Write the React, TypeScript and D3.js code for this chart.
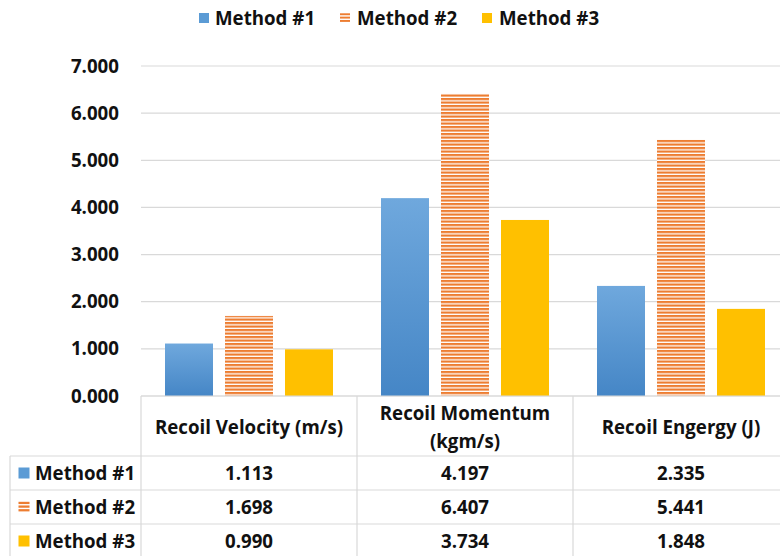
import React from "react";
import * as d3 from "d3";

const categories = ["Recoil Velocity (m/s)", "Recoil Momentum (kgm/s)", "Recoil Engergy (J)"];
const headerLines = [["Recoil Velocity (m/s)"], ["Recoil Momentum", "(kgm/s)"], ["Recoil Engergy (J)"]];
const seriesNames = ["Method #1", "Method #2", "Method #3"];
const method1 = [1.113, 4.197, 2.335];
const method2 = [1.698, 6.407, 5.441];
const method3 = [0.99, 3.734, 1.848];
const yTicks = [0, 1, 2, 3, 4, 5, 6, 7];

const W = 780;
const H = 556;
const FONT = "'Open Sans', Lato, sans-serif";
const FS = 18.7;

export default function App() {
  const series = [method1, method2, method3];
  const plotLeft = 141;
  const plotRight = 790;
  const y = d3.scaleLinear().domain([0, 7]).range([396, 66]);
  const x0 = d3.scaleBand<string>().domain(categories).range([plotLeft, plotLeft + 216 * 3]).paddingInner(0).paddingOuter(0);
  const x1 = d3.scaleBand<string>().domain(seriesNames).range([0, 216]).paddingInner(0.2).paddingOuter(0.4);
  const fills = ["url(#blueGrad)", "url(#orangeStripe)", "#ffc000"];

  const tableTop = 396;
  const headerBottom = 456;
  const rowH = 34;
  const tableLeft = 10;
  const lineColor = "#d9d9d9";

  const legendIcon = (i: number, cx: number, cy: number, s: number) => {
    if (i === 1) {
      return (
        <g>
          {[0, 1, 2].map((k) => (
            <rect key={k} x={cx - s / 2} y={cy - s / 2 + k * (s / 3) + 0.3} width={s} height={s / 3 - 1.4} fill="#ed7d31" />
          ))}
        </g>
      );
    }
    return <rect x={cx - s / 2} y={cy - s / 2} width={s} height={s} fill={i === 0 ? "#5b9bd5" : "#ffc000"} />;
  };

  const legendItems = [
    { iconX: 204, textX: 215 },
    { iconX: 345, textX: 357 },
    { iconX: 487, textX: 499 },
  ];

  return (
    <svg width={W} height={H} style={{ position: "absolute", left: 0, top: 0, background: "#fff" }} fontFamily={FONT}>
      <defs>
        <linearGradient id="blueGrad" x1="0" y1="0" x2="0" y2="1">
          <stop offset="0%" stopColor="#6fa8dd" />
          <stop offset="100%" stopColor="#4586c6" />
        </linearGradient>
        <pattern id="orangeStripe" patternUnits="userSpaceOnUse" width={8} height={3.5}>
          <rect width={8} height={3.5} fill="#fff" />
          <rect y={0} width={8} height={2.2} fill="#ed7d31" />
        </pattern>
      </defs>

      {/* legend */}
      {seriesNames.map((name, i) => (
        <g key={name}>
          {legendIcon(i, legendItems[i].iconX, 18, 10)}
          <text x={legendItems[i].textX} y={18} dy="0.35em" fontSize={FS} fontWeight={700} fill="#111">
            {name}
          </text>
        </g>
      ))}

      {/* gridlines */}
      {yTicks.map((t) => (
        <line key={t} x1={plotLeft} x2={plotRight} y1={y(t)} y2={y(t)} stroke={lineColor} strokeWidth={1.2} />
      ))}

      {/* y tick labels */}
      {yTicks.map((t) => (
        <text key={t} x={119} y={y(t)} dy="0.35em" textAnchor="end" fontSize={FS} fontWeight={700} fill="#111">
          {d3.format(".3f")(t)}
        </text>
      ))}

      {/* bars */}
      {categories.map((c, ci) => (
        <g key={c} transform={`translate(${x0(c)},0)`}>
          {series.map((vals, si) => (
            <rect
              key={si}
              x={x1(seriesNames[si])}
              y={y(vals[ci])}
              width={x1.bandwidth()}
              height={y(0) - y(vals[ci])}
              fill={fills[si]}
            />
          ))}
        </g>
      ))}

      {/* data table */}
      <g stroke={lineColor} strokeWidth={1.2}>
        <line x1={plotLeft} x2={plotRight} y1={tableTop} y2={tableTop} />
        {[0, 1, 2].map((r) => (
          <line key={r} x1={tableLeft} x2={plotRight} y1={headerBottom + r * rowH} y2={headerBottom + r * rowH} />
        ))}
        <line x1={tableLeft} x2={tableLeft} y1={headerBottom} y2={H} />
        {categories.map((c) => (
          <line key={c} x1={x0(c)} x2={x0(c)} y1={tableTop} y2={H} />
        ))}
        <line x1={plotLeft + 216 * 3} x2={plotLeft + 216 * 3} y1={tableTop} y2={H} />
      </g>

      {categories.map((c, ci) => {
        const cx = (x0(c) as number) + x0.bandwidth() / 2;
        const lines = headerLines[ci];
        const mid = (tableTop + headerBottom) / 2 + 1;
        const gap = 28;
        return (
          <g key={c}>
            {lines.map((ln, li) => (
              <text
                key={li}
                x={cx}
                y={mid + (li - (lines.length - 1) / 2) * gap}
                dy="0.35em"
                textAnchor="middle"
                fontSize={FS}
                fontWeight={700}
                fill="#111"
              >
                {ln}
              </text>
            ))}
          </g>
        );
      })}

      {seriesNames.map((name, si) => {
        const cy = headerBottom + si * rowH + rowH / 2;
        return (
          <g key={name}>
            {legendIcon(si, 24, cy, 11)}
            <text x={35} y={cy} dy="0.35em" fontSize={FS} fontWeight={700} fill="#111">
              {name}
            </text>
            {categories.map((c, ci) => (
              <text
                key={c}
                x={(x0(c) as number) + x0.bandwidth() / 2}
                y={cy}
                dy="0.35em"
                textAnchor="middle"
                fontSize={FS}
                fontWeight={700}
                fill="#111"
              >
                {d3.format(".3f")(series[si][ci])}
              </text>
            ))}
          </g>
        );
      })}
    </svg>
  );
}
